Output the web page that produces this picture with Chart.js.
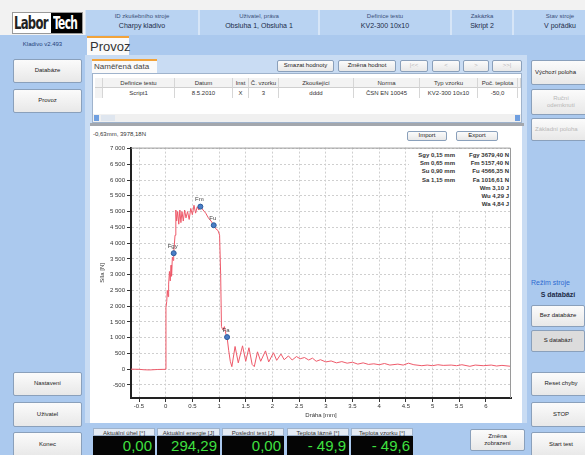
<!DOCTYPE html>
<html>
<head>
<meta charset="utf-8">
<script src="https://cdn.jsdelivr.net/npm/chart.js@4.4.0/dist/chart.umd.min.js"></script>
<style>
  * { box-sizing: border-box; }
  body { margin: 0; width: 585px; height: 455px; overflow: hidden; position: relative;
         background: #f2f2f2; font-family: "Liberation Sans", Arial, sans-serif; color: #222; }
  .a { position: absolute; }
  .blue { background: #abc9ee; }
  .btn { position: absolute; background: linear-gradient(#fbfbfb, #e8e8e8); border: 1px solid #8aa0bb;
         border-radius: 2px; font-size: 6px; display: flex; align-items: center; justify-content: center;
         text-align: center; line-height: 1.25; color: #222; }
  .btn.off { color: #b8b8b8; }
  .hcell { position: absolute; top: 10px; height: 25px; background: #b9d3f2; text-align: center; }
  .hcell .l { font-size: 6px; color: #3a4f78; margin-top: 3px; }
  .hcell .v { font-size: 7px; color: #1b2b48; margin-top: 3px; }
  .th, .td { position: absolute; font-size: 6px; text-align: center; border-right: 1px solid #d6d6d6; height: 10px; line-height: 10px; }
  .th { background: #f3f3f3; color: #333; border-bottom: 1px solid #cfcfcf; }
  .td { color: #333; }
  .lab { position: absolute; top: 428px; height: 8px; font-size: 6px; line-height: 8px; text-align: center;
         background: #e4ebf4; color: #333; border: 1px solid #9fb3cc; }
  .val { position: absolute; top: 436px; height: 19px; background: #050505; color: #3fe040;
         font-size: 15px; line-height: 19px; text-align: right; padding-right: 3px; }
  .logo { position: absolute; top: 13px; height: 20px; font: bold 18px 'DejaVu Sans Condensed';
          letter-spacing: -1px; line-height: 20px; transform-origin: left; white-space: nowrap; }
</style>
</head>
<body>

<!-- top header -->
<div class="a" style="left:12px;top:12px;width:71px;height:22px;background:#fff;border:1px solid #999;"></div>
<div class="logo" style="left:14px;transform:scaleX(0.72);">Labor</div>
<div class="a" style="left:51px;top:13px;width:31px;height:20px;background:#000;"></div>
<div class="logo" style="left:53px;color:#fff;transform:scaleX(0.66);">Tech</div>

<div class="a" style="left:85px;top:10px;width:500px;height:25px;background:#d6e5f7;"></div>
<div class="hcell" style="left:86px;width:112px"><div class="l">ID zkušebního stroje</div><div class="v">Charpy kladivo</div></div>
<div class="hcell" style="left:200px;width:118px"><div class="l">Uživatel, práva</div><div class="v">Obsluha 1, Obsluha 1</div></div>
<div class="hcell" style="left:320px;width:130px"><div class="l">Definice testu</div><div class="v">KV2-300 10x10</div></div>
<div class="hcell" style="left:452px;width:60px"><div class="l">Zakázka</div><div class="v">Skript 2</div></div>
<div class="hcell" style="left:514px;width:92px"><div class="l">Stav stroje</div><div class="v">V pořádku</div></div>

<!-- second row -->
<div class="a blue" style="left:0;top:35px;width:585px;height:20px;"></div>
<div class="a" style="left:0;top:41px;width:85px;text-align:center;font-size:6px;color:#1f3f7a;">Kladivo v2.493</div>
<div class="a" style="left:87px;top:36px;width:42px;height:20px;background:#fafafa;border-top:2px solid #f2a33a;font-size:13px;line-height:17px;padding-left:3px;color:#333;">Provoz</div>

<!-- left column -->
<div class="a blue" style="left:0;top:55px;width:85px;height:400px;"></div>
<div class="btn" style="left:13px;top:59px;width:69px;height:24px;">Databáze</div>
<div class="btn" style="left:13px;top:89px;width:69px;height:24px;">Provoz</div>
<div class="btn" style="left:13px;top:372px;width:69px;height:24px;">Nastavení</div>
<div class="btn" style="left:13px;top:402px;width:69px;height:25px;">Uživatel</div>
<div class="btn" style="left:13px;top:432px;width:69px;height:25px;">Konec</div>

<!-- right column -->
<div class="a blue" style="left:527px;top:55px;width:58px;height:400px;"></div>
<div class="btn" style="left:531px;top:60px;width:60px;height:25px;justify-content:flex-start;padding-left:3px;">Výchozí poloha</div>
<div class="btn off" style="left:531px;top:89px;width:60px;height:26px;">Ruční<br>odemknutí</div>
<div class="btn off" style="left:531px;top:118px;width:60px;height:23px;justify-content:flex-start;padding-left:3px;">Základní poloha</div>
<div class="a" style="left:531px;top:279px;width:60px;font-size:7px;color:#2f6ad0;">Režim stroje</div>
<div class="a" style="left:531px;top:291px;width:54px;text-align:center;font-size:7px;font-weight:bold;color:#1b2b48;">S databází</div>
<div class="btn" style="left:531px;top:305px;width:54px;height:22px;">Bez databáze</div>
<div class="btn" style="left:531px;top:330px;width:54px;height:22px;background:#dcdcdc;">S databází</div>
<div class="btn" style="left:531px;top:372px;width:60px;height:24px;">Reset chyby</div>
<div class="btn" style="left:531px;top:402px;width:60px;height:25px;">STOP</div>
<div class="btn" style="left:531px;top:432px;width:60px;height:25px;">Start test</div>

<!-- main panel -->
<div class="a" style="left:85px;top:55px;width:442px;height:368px;background:#c9dcf3;"></div>
<div class="a" style="left:92px;top:59px;width:65px;height:14px;background:#fafafa;border-top:2px solid #f2a33a;font-size:8px;line-height:12px;padding-left:2px;color:#444;">Naměřená data</div>
<div class="btn" style="left:277px;top:60px;width:57px;height:12px;">Smazat hodnoty</div>
<div class="btn" style="left:338px;top:60px;width:58px;height:12px;">Změna hodnot</div>
<div class="btn off" style="left:400px;top:60px;width:28px;height:12px;">|&lt;&lt;</div>
<div class="btn off" style="left:432px;top:60px;width:28px;height:12px;">&lt;</div>
<div class="btn off" style="left:463px;top:60px;width:26px;height:12px;">&gt;</div>
<div class="btn off" style="left:492px;top:60px;width:30px;height:12px;">&gt;&gt;|</div>

<div class="a" style="left:92px;top:73px;width:430px;height:50px;background:#fff;border:1px solid #9fb3cc;"></div>
<div class="th" style="left:95px;top:78px;width:8px"></div>
<div class="th" style="left:103px;top:78px;width:72px">Definice testu</div>
<div class="th" style="left:175px;top:78px;width:58px">Datum</div>
<div class="th" style="left:233px;top:78px;width:16px">Inst</div>
<div class="th" style="left:249px;top:78px;width:30px">Č. vzorku</div>
<div class="th" style="left:279px;top:78px;width:75px">Zkoušející</div>
<div class="th" style="left:354px;top:78px;width:66px">Norma</div>
<div class="th" style="left:420px;top:78px;width:58px">Typ vzorku</div>
<div class="th" style="left:478px;top:78px;width:40px">Poč. teplota</div>
<div class="th" style="left:518px;top:78px;width:3px"></div>
<div class="td" style="left:95px;top:88px;width:8px;background:#f3f3f3"></div>
<div class="td" style="left:103px;top:88px;width:72px">Script1</div>
<div class="td" style="left:175px;top:88px;width:58px">8.5.2010</div>
<div class="td" style="left:233px;top:88px;width:16px">X</div>
<div class="td" style="left:249px;top:88px;width:30px">3</div>
<div class="td" style="left:279px;top:88px;width:75px">dddd</div>
<div class="td" style="left:354px;top:88px;width:66px">ČSN EN 10045</div>
<div class="td" style="left:420px;top:88px;width:58px">KV2-300 10x10</div>
<div class="td" style="left:478px;top:88px;width:40px">-50,0</div>
<div class="a" style="left:93px;top:114px;width:428px;height:8px;background:#f0f0f0;"></div>
<div class="a" style="left:94px;top:115px;width:5px;height:6px;background:#6f9fe0;"></div>
<div class="a" style="left:101px;top:115px;width:14px;height:6px;background:#dfe6ef;"></div>
<div class="a" style="left:515px;top:115px;width:5px;height:6px;background:#6f9fe0;"></div>
<div class="a" style="left:90px;top:123px;width:434px;height:3px;background:#a3a7ad;"></div>

<!-- chart panel -->
<div class="a" style="left:90px;top:126px;width:432px;height:297px;background:#fff;"></div>
<div class="a" style="left:93px;top:131px;font-size:6px;color:#333;">-0,63mm, 3978,18N</div>
<div class="btn" style="left:407px;top:131px;width:40px;height:10px;">Import</div>
<div class="btn" style="left:456px;top:131px;width:42px;height:10px;">Export</div>
<canvas id="c" class="a" style="left:90px;top:142px;" width="432" height="280"></canvas>
<div class="a" style="left:409px;top:149px;width:101px;height:61px;background:#fff;font-size:6px;font-weight:bold;line-height:8.2px;color:#333;">
  <div class="a" id="s1" style="right:55px;top:2px;text-align:right;white-space:nowrap;"></div>
  <div class="a" id="s2" style="right:1px;top:2px;text-align:right;white-space:nowrap;"></div>
</div>

<!-- bottom readouts -->
<div class="a blue" style="left:85px;top:423px;width:442px;height:32px;"></div>
<div class="lab" style="left:93px;width:62px">Aktuální úhel [°]</div>
<div class="lab" style="left:157px;width:63px">Aktuální energie [J]</div>
<div class="lab" style="left:222px;width:62px">Poslední test [J]</div>
<div class="lab" style="left:287px;width:62px">Teplota lázně [°]</div>
<div class="lab" style="left:351px;width:62px">Teplota vzorku [°]</div>
<div class="val" style="left:93px;width:62px">0,00</div>
<div class="val" style="left:157px;width:63px">294,29</div>
<div class="val" style="left:222px;width:62px">0,00</div>
<div class="val" style="left:287px;width:62px">- 49,9</div>
<div class="val" style="left:351px;width:62px">- 49,6</div>
<div class="btn" style="left:470px;top:429px;width:55px;height:22px;">Změna<br>zobrazení</div>

<script>
// measured force curve: dráha [mm] / síla [N]
const forceX = [
  -0.65, -0.5, -0.4, -0.3, -0.15, 0, 0.005, 0.02, 0.03, 0.045,
  0.055, 0.07, 0.085, 0.1, 0.11, 0.125, 0.14, 0.15, 0.16, 0.175,
  0.19, 0.205, 0.225, 0.245, 0.265, 0.285, 0.305, 0.33, 0.355, 0.38,
  0.41, 0.44, 0.47, 0.5, 0.53, 0.56, 0.59, 0.62, 0.65, 0.7,
  0.75, 0.8, 0.85, 0.9, 0.94, 0.98, 1.01, 1.03, 1.045, 1.07,
  1.1, 1.13, 1.15, 1.18, 1.21, 1.24, 1.3, 1.36, 1.44, 1.5,
  1.56, 1.62, 1.66, 1.72, 1.78, 1.87, 1.93, 2.02, 2.08, 2.16,
  2.22, 2.3, 2.37, 2.45, 2.52, 2.6, 2.68, 2.75, 2.82, 2.9,
  3.0, 3.1, 3.2, 3.3, 3.4, 3.5, 3.6, 3.7, 3.8, 3.9,
  4.0, 4.1, 4.2, 4.35, 4.45, 4.55, 4.65, 4.8, 4.9, 5.0,
  5.1, 5.2, 5.35, 5.45, 5.55, 5.7, 5.8, 5.95, 6.1, 6.2,
  6.3, 6.47
];
const forceY = [
  0, -5, -20, -25, -10, -5, 1950, 2150, 2500, 2300,
  2700, 3100, 2800, 3300, 2950, 3550, 3450, 3680, 3900, 4250,
  5050, 4700, 5000, 4600, 5050, 4650, 5000, 4700, 5050, 4800,
  5000, 4750, 5100, 4900, 5200, 4950, 5150, 5050, 5160, 5050,
  4950, 4800, 4700, 4570, 4450, 4400, 4250, 3000, 1350, 1250,
  1350, 1100, 1020, 600, 250, 80, 720, 200, 740, 250,
  680, 150, 80, 550, 250, 580, 230, 520, 280, 480,
  300, 420, 290, 400, 330, 370, 290, 350, 250, 300,
  230, 260, 200, 240, 190, 220, 160, 200, 150, 170,
  140, 180, 130, 160, 130, 190, 140, 110, 130, 110,
  140, 120, 130, 110, 140, 90, 130, 110, 130, 100,
  120, 90
];

// evaluated points
const markerNames = ['Fgy', 'Fm', 'Fu', 'Fa'];
const markerX = [0.15, 0.65, 0.90, 1.15];
const markerY = [3679.40, 5157.40, 4566.35, 1016.61];

// axis ticks
const xTicks = [-0.5, 0, 0.5, 1, 1.5, 2, 2.5, 3, 3.5, 4, 4.5, 5, 5.5, 6];
const yTicks = [-500, 0, 500, 1000, 1500, 2000, 2500, 3000, 3500, 4000, 4500, 5000, 5500, 6000, 6500, 7000];

// results box
const resultsLeft  = ['Sgy 0,15 mm', 'Sm 0,65 mm', 'Su 0,90 mm', 'Sa 1,15 mm'];
const resultsRight = ['Fgy 3679,40 N', 'Fm 5157,40 N', 'Fu 4566,35 N', 'Fa 1016,61 N', 'Wm 3,10 J', 'Wu 4,29 J', 'Wa 4,84 J'];

document.getElementById('s1').innerHTML = resultsLeft.join('<br>');
document.getElementById('s2').innerHTML = resultsRight.join('<br>');

const fmtY = v => Math.abs(v) >= 1000 ? String(v).replace(/(\d)(\d{3})$/, '$1 $2') : String(v);
const tickFont = { size: 6, family: 'Liberation Sans' };

const frame = {
  id: 'frame',
  afterDraw(chart) {
    const { ctx, chartArea: a } = chart;
    ctx.save();
    ctx.strokeStyle = '#9a9a9a';
    ctx.lineWidth = 1;
    ctx.beginPath();
    ctx.moveTo(a.left, a.top + 0.5); ctx.lineTo(a.right - 0.5, a.top + 0.5); ctx.lineTo(a.right - 0.5, a.bottom);
    ctx.stroke();
    ctx.restore();
  }
};

const markerLabels = {
  id: 'markerLabels',
  afterDatasetsDraw(chart) {
    const ctx = chart.ctx;
    const meta = chart.getDatasetMeta(1);
    ctx.save();
    ctx.font = '6px "Liberation Sans", Arial, sans-serif';
    ctx.fillStyle = '#444';
    ctx.textAlign = 'center';
    ctx.textBaseline = 'bottom';
    meta.data.forEach((pt, i) => ctx.fillText(markerNames[i], pt.x - 1, pt.y - 4));
    ctx.restore();
  }
};

new Chart(document.getElementById('c'), {
  type: 'scatter',
  data: {
    datasets: [
      {
        type: 'line',
        data: forceX.map((x, i) => ({ x, y: forceY[i] })),
        borderColor: '#ee5a6a',
        borderWidth: 1,
        pointRadius: 0,
        tension: 0,
        order: 2
      },
      {
        data: markerX.map((x, i) => ({ x, y: markerY[i] })),
        backgroundColor: '#4a7ec6',
        borderColor: '#2d5c9c',
        borderWidth: 1,
        pointRadius: 2.5,
        order: 1
      }
    ]
  },
  options: {
    responsive: false,
    animation: false,
    layout: { padding: { top: 4, right: 11, left: 0, bottom: 0 } },
    plugins: { legend: { display: false }, tooltip: { enabled: false } },
    scales: {
      x: {
        type: 'linear',
        min: -0.65,
        max: 6.47,
        afterFit: s => { s.height = 24; },
        afterBuildTicks: s => { s.ticks = xTicks.map(v => ({ value: v })); },
        ticks: { padding: 1, color: '#333', font: tickFont, callback: v => String(v), maxRotation: 0, autoSkip: false },
        grid: { color: '#cfcfcf', tickColor: '#333', tickLength: 4 },
        border: { display: true, color: '#222', width: 2, dash: [2, 2] },
        title: { display: true, text: 'Dráha [mm]', color: '#333', font: tickFont, padding: { top: 0, bottom: 3 } }
      },
      y: {
        type: 'linear',
        min: -915,
        max: 7030,
        afterFit: s => { s.width = 41; },
        afterBuildTicks: s => { s.ticks = yTicks.map(v => ({ value: v })); },
        ticks: { padding: 2, color: '#333', font: tickFont, callback: v => fmtY(v), autoSkip: false },
        grid: { color: '#cfcfcf', tickColor: '#333', tickLength: 4 },
        border: { display: true, color: '#222', width: 2, dash: [2, 2] },
        title: { display: true, text: 'Síla [N]', color: '#333', font: tickFont, padding: { top: 9, bottom: 0 } }
      }
    }
  },
  plugins: [frame, markerLabels]
});
</script>
</body>
</html>
